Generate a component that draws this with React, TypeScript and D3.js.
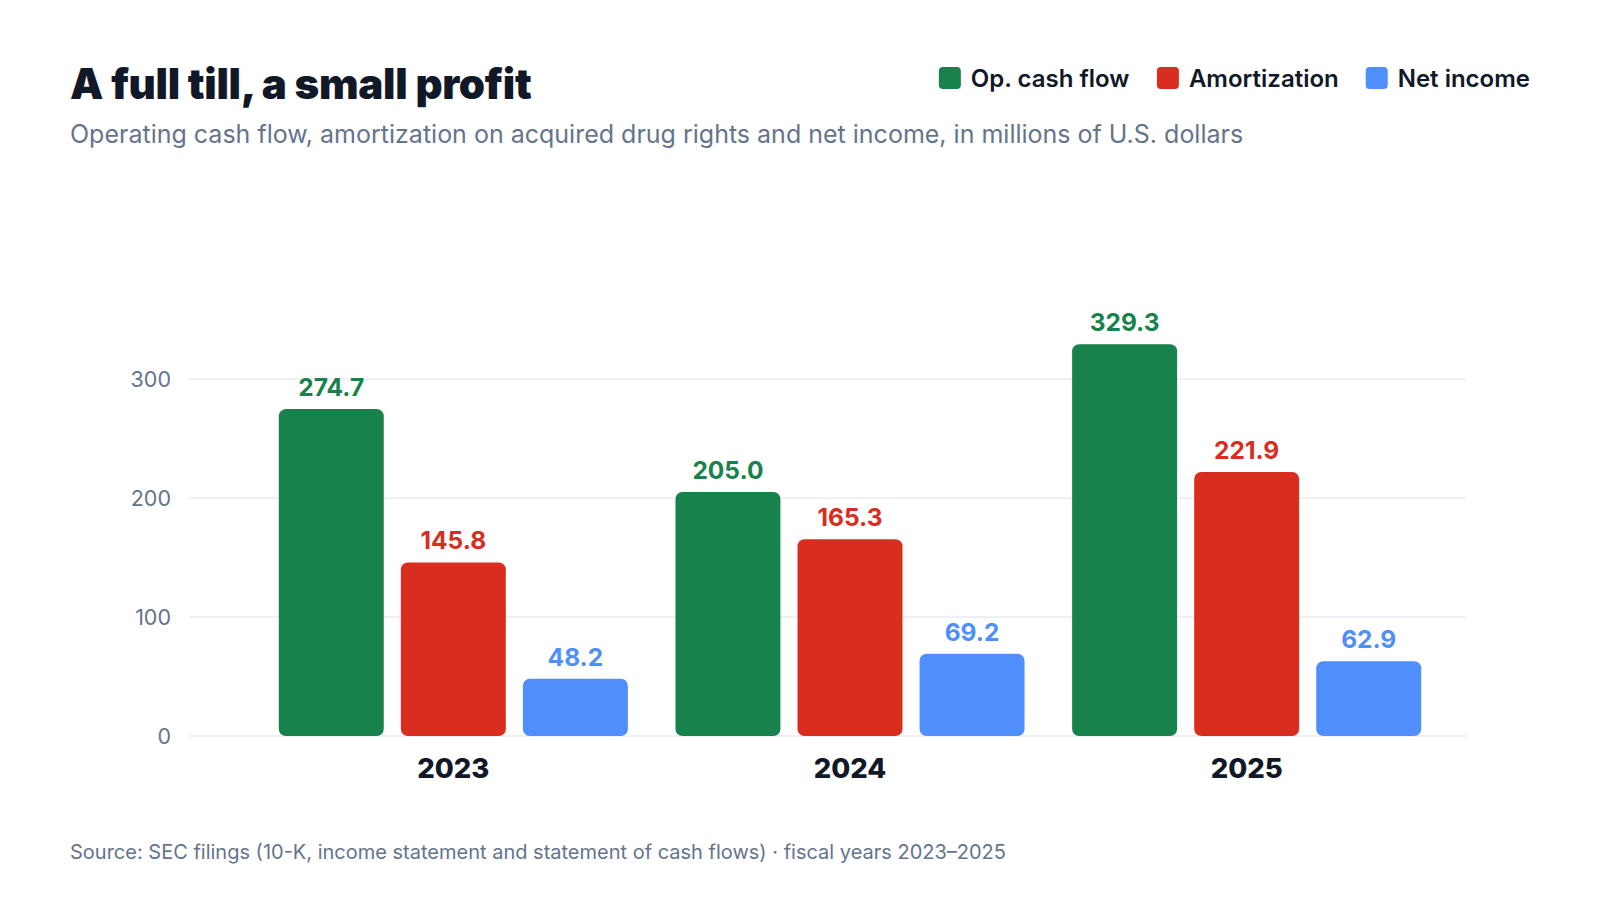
import React, { useMemo } from 'react';
import * as d3 from 'd3';

const years = ['2023', '2024', '2025'];
const seriesNames = ['Op. cash flow', 'Amortization', 'Net income'];
const seriesColors = ['#17824c', '#d92d20', '#4f8ffc'];
const opCashFlow = [274.7, 205.0, 329.3];
const amortization = [145.8, 165.3, 221.9];
const netIncome = [48.2, 69.2, 62.9];
const yTicks = [0, 100, 200, 300];

const TITLE = 'A full till, a small profit';
const SUBTITLE = 'Operating cash flow, amortization on acquired drug rights and net income, in millions of U.S. dollars';
const SOURCE = 'Source: SEC filings (10-K, income statement and statement of cash flows) · fiscal years 2023–2025';

const FONT = 'Inter, "Noto Sans", sans-serif';
const W = 1600;
const H = 900;

function measure(text: string, font: string) {
  const ctx = document.createElement('canvas').getContext('2d');
  if (!ctx) return text.length * 12;
  ctx.font = font;
  return ctx.measureText(text).width;
}

export default function App() {
  const values = [opCashFlow, amortization, netIncome];

  // scales
  const x0 = d3.scaleBand<string>().domain(years).range([255, 1445]).paddingInner(0.12).paddingOuter(0.06);
  const x1 = d3.scaleBand<string>().domain(seriesNames).range([0, x0.bandwidth()]).paddingInner(0.14);
  const y = d3.scaleLinear().domain([0, 350]).range([736, 736 - 350 * (357 / 300)]);

  // legend layout, right aligned
  const legend = useMemo(() => {
    const font = `600 24px ${FONT}`;
    const sq = 22, gapText = 10, gapItem = 27;
    const widths = seriesNames.map(s => measure(s, font));
    const total = widths.reduce((a, w) => a + sq + gapText + w, 0) + gapItem * (seriesNames.length - 1);
    let cx = 1530 - total;
    return seriesNames.map((s, i) => {
      const item = { name: s, color: seriesColors[i], x: cx };
      cx += sq + gapText + widths[i] + gapItem;
      return item;
    });
  }, []);

  return (
    <svg
      width={W}
      height={H}
      style={{ position: 'absolute', left: 0, top: 0, background: '#fff', fontFamily: FONT }}
    >
      <rect width={W} height={H} fill="#fff" />

      {/* header */}
      <text x={70} y={99} fontSize={42} fontWeight={900} fill="#111827" letterSpacing={-0.3}>{TITLE}</text>
      <text x={70} y={143} fontSize={25} fill="#64748b">{SUBTITLE}</text>

      {/* legend */}
      {legend.map(l => (
        <g key={l.name} transform={`translate(${l.x},67)`}>
          <rect width={22} height={22} rx={4} fill={l.color} />
          <text x={32} y={11} dy="0.36em" fontSize={24} fontWeight={600} fill="#111827">{l.name}</text>
        </g>
      ))}

      {/* grid + y axis */}
      <g>
        {yTicks.map(t => (
          <g key={t}>
            <line x1={189} x2={1466} y1={y(t)} y2={y(t)} stroke="#e8ebf0" strokeWidth={1.5} />
            <text x={171} y={y(t)} dy="0.35em" textAnchor="end" fontSize={21.5} fill="#64748b">{t}</text>
          </g>
        ))}
      </g>

      {/* bars */}
      {years.map((yr, gi) => (
        <g key={yr} transform={`translate(${x0(yr)},0)`}>
          {seriesNames.map((s, si) => {
            const v = values[si][gi];
            const bx = x1(s) as number;
            return (
              <g key={s}>
                <rect x={bx} y={y(v)} width={x1.bandwidth()} height={y(0) - y(v)} rx={7} fill={seriesColors[si]} />
                <text
                  x={bx + x1.bandwidth() / 2}
                  y={y(v) - 13}
                  textAnchor="middle"
                  fontSize={24.5}
                  fontWeight={700}
                  fill={seriesColors[si]}
                >
                  {d3.format('.1f')(v)}
                </text>
              </g>
            );
          })}
          <text x={x0.bandwidth() / 2} y={778} textAnchor="middle" fontSize={27.5} fontWeight={800} fill="#111827">{yr}</text>
        </g>
      ))}

      {/* footer */}
      <text x={70} y={859} fontSize={20} fill="#64748b">{SOURCE}</text>
    </svg>
  );
}
